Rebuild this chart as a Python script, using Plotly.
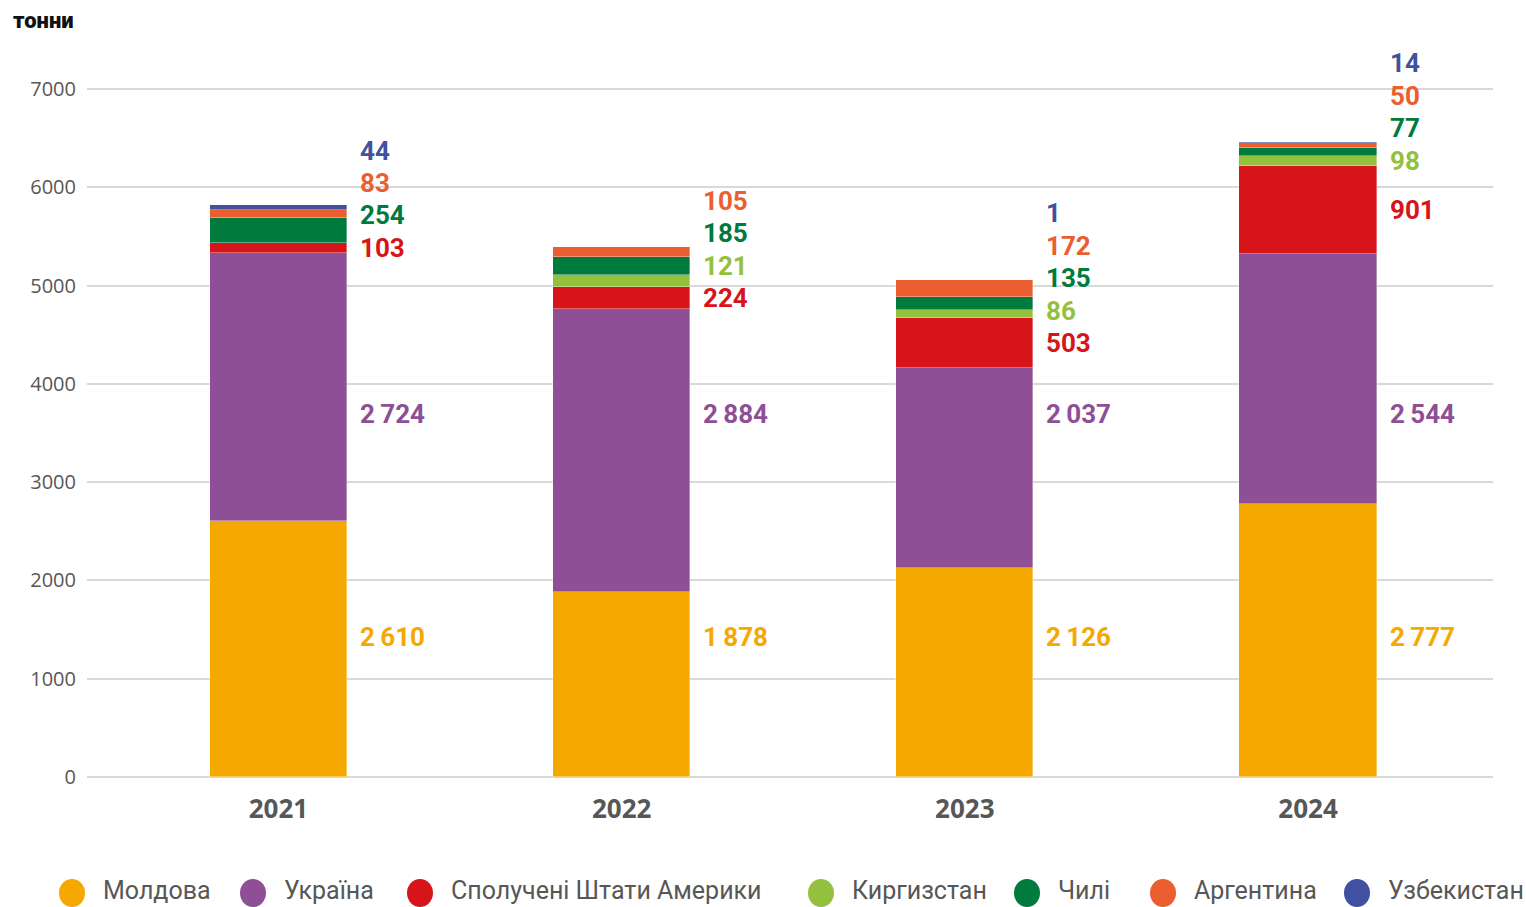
import plotly.graph_objects as go

# ---------------- data ----------------
years = ["2021", "2022", "2023", "2024"]
countries = ["Молдова", "Україна", "Сполучені Штати Америки", "Киргизстан",
             "Чилі", "Аргентина", "Узбекистан"]
moldova = [2610, 1878, 2126, 2777]
ukraine = [2724, 2884, 2037, 2544]
usa = [103, 224, 503, 901]
kyrgyzstan = [0, 121, 86, 98]
chile = [254, 185, 135, 77]
argentina = [83, 105, 172, 50]
uzbekistan = [44, 0, 1, 14]
y_ticks = [0, 1000, 2000, 3000, 4000, 5000, 6000, 7000]
unit_label = "тонни"

series = [moldova, ukraine, usa, kyrgyzstan, chile, argentina, uzbekistan]
colors = ["#F5A800", "#8E4F97", "#D7141A", "#93C13E", "#007A3D", "#EB5E30", "#3F51A0"]

# ---------------- style ----------------
LABEL_FONT = "Roboto, Liberation Sans, sans-serif"
GREY = "#575757"
GRID = "#d9d9d9"
W, H = 1526, 907
PLOT_LEFT, PLOT_RIGHT, PLOT_BOTTOM, Y7000_PX = 87, 1493, 777, 89
Y_MAX = 7500
scale = (PLOT_BOTTOM - Y7000_PX) / 7000.0          # px per unit
PLOT_TOP = PLOT_BOTTOM - Y_MAX * scale
ML, MR, MB = PLOT_LEFT, W - PLOT_RIGHT, H - PLOT_BOTTOM
MT = PLOT_TOP
plot_w, plot_h = PLOT_RIGHT - PLOT_LEFT, PLOT_BOTTOM - PLOT_TOP

x_pos = list(range(len(years)))

fig = go.Figure()
for name, vals, col in zip(countries, series, colors):
    fig.add_trace(go.Bar(
        x=x_pos, y=vals, name=name, width=0.4,
        marker=dict(color=col, line=dict(width=0.6, color="rgba(255,255,255,0.6)")),
        showlegend=False, hoverinfo="y+name",
    ))

def fmt(v):
    return f"{v:,}".replace(",", "\u2009")

annotations = []
BIG_LABEL_Y = [1425, 3695]   # fixed label levels for the two big segments
GAP = 330                    # minimum vertical spacing of the small labels (data units)
for i in x_pos:
    base = 0
    prev = None
    for k, (vals, col) in enumerate(zip(series, colors)):
        v = vals[i]
        if k < 2:
            ly = BIG_LABEL_Y[k]
        else:
            if v == 0:
                continue
            ly = base + v / 2
            if prev is not None:
                ly = max(ly, prev + GAP)
            prev = ly
        base += v
        annotations.append(dict(
            x=i + 0.2, y=ly, xref="x", yref="y", xanchor="left", yanchor="middle",
            xshift=11, text=f"<b>{fmt(v)}</b>", showarrow=False,
            font=dict(family=LABEL_FONT, size=26, color=col),
        ))

def px_to_paper_x(px):
    return (px - PLOT_LEFT) / plot_w

def px_to_paper_y(py):
    return (PLOT_BOTTOM - py) / plot_h

# unit label
annotations.append(dict(
    x=px_to_paper_x(11), y=px_to_paper_y(20), xref="paper", yref="paper",
    xanchor="left", yanchor="middle", text=unit_label,
    showarrow=False, font=dict(family=LABEL_FONT, size=22, color="#111111", weight=900),
))

# manual legend (circles + text) below the plot
legend_circle_x = [72, 253, 420, 821, 1027, 1163, 1357]
legend_y_px = 891
shapes = []
for cx, name, col in zip(legend_circle_x, countries, colors):
    shapes.append(dict(
        type="circle", xref="paper", yref="paper",
        xsizemode="pixel", ysizemode="pixel",
        xanchor=px_to_paper_x(cx), yanchor=px_to_paper_y(893),
        x0=-13, x1=13, y0=-14, y1=14,
        fillcolor=col, line=dict(width=0),
    ))
    annotations.append(dict(
        x=px_to_paper_x(cx + 29), y=px_to_paper_y(legend_y_px),
        xref="paper", yref="paper", xanchor="left", yanchor="middle",
        text=name, showarrow=False,
        font=dict(family=LABEL_FONT, size=25, color=GREY),
    ))

fig.update_layout(
    width=W, height=H,
    margin=dict(l=ML, r=MR, t=MT, b=MB, pad=0),
    plot_bgcolor="white", paper_bgcolor="white",
    barmode="stack", bargap=0,
    xaxis=dict(
        range=[-0.558, 3.539], tickvals=x_pos, ticktext=years,
        showgrid=False, zeroline=False, showline=False, ticks="",
        tickfont=dict(family="Open Sans", size=26, color=GREY, weight="bold"),
        ticklabelstandoff=14, fixedrange=True,
    ),
    yaxis=dict(
        range=[0, Y_MAX], tickvals=y_ticks, ticktext=[str(t) for t in y_ticks],
        showgrid=True, gridcolor=GRID, gridwidth=2,
        zeroline=True, zerolinecolor=GRID, zerolinewidth=2,
        showline=False, ticks="",
        tickfont=dict(family="Open Sans", size=20, color=GREY),
        ticklabelstandoff=10, fixedrange=True,
    ),
    annotations=annotations, shapes=shapes,
    showlegend=False,
)

fig.write_html(
    "out.html",
    config={"displayModeBar": False},
    post_script="document.body.style.margin='0px';document.body.style.overflow='hidden';",
)
